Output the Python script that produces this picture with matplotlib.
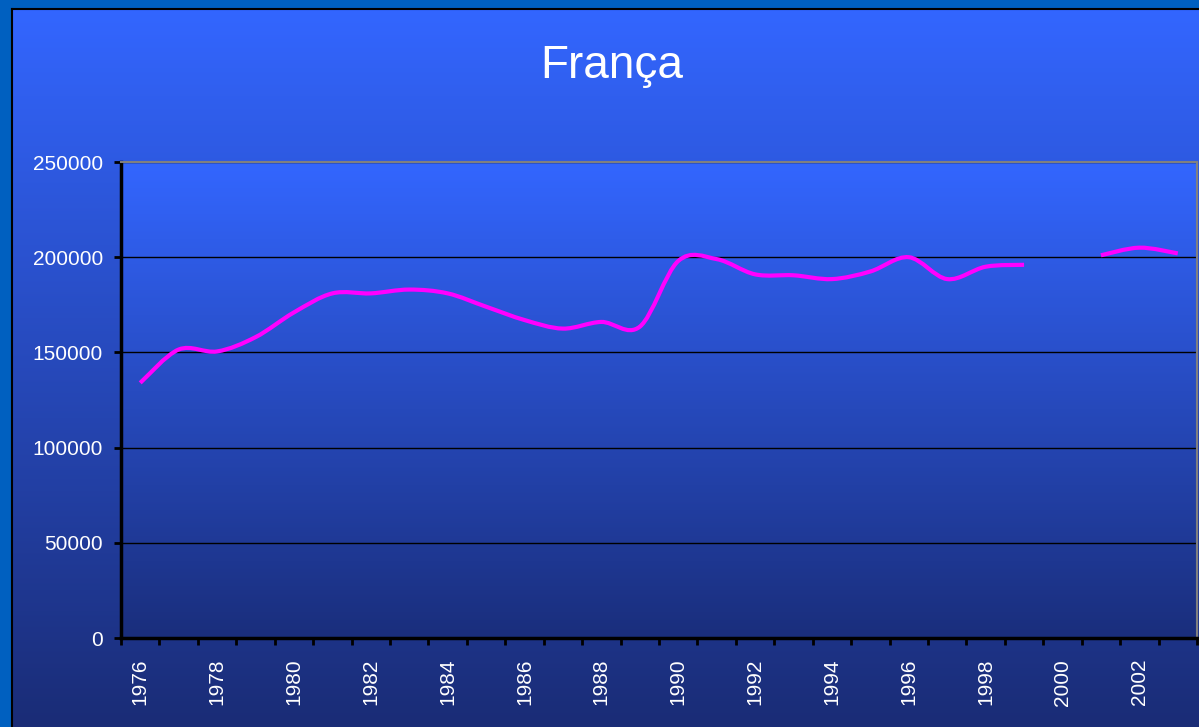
import numpy as np
import matplotlib
matplotlib.use("Agg")
import matplotlib.pyplot as plt
from matplotlib.path import Path
from matplotlib.patches import PathPatch
from matplotlib.colors import LinearSegmentedColormap

plt.rcParams['font.family'] = ['Liberation Sans', 'DejaVu Sans']

# ---- data ----
title = "França"
years = list(range(1976, 2004))
values = [134000, 151500, 150500, 158000, 171000, 181000, 181000, 183000,
          181000, 174000, 167000, 162500, 166000, 163500, 198000, 199000,
          191000, 190500, 188500, 192500, 200000, 188500, 195000, 196000,
          None, 201000, 205000, 202000]
yticks = [0, 50000, 100000, 150000, 200000, 250000]
label_years = list(range(1976, 2004, 2))

W, H = 1199, 727
fig = plt.figure(figsize=(W / 100, H / 100), dpi=100)
fig.patch.set_facecolor('#0060c0')

# chart area background with gradient
bg = fig.add_axes([12 / W, 0, 1 - 12 / W, (H - 9) / H], zorder=0)
cmap_bg = LinearSegmentedColormap.from_list('bg', ['#1a2c76', '#3366ff'])
grad = np.linspace(0, 1, 256).reshape(-1, 1)
bg.imshow(grad, aspect='auto', cmap=cmap_bg, origin='lower', extent=[0, 1, 0, 1])
bg.set_xticks([]); bg.set_yticks([])
for s in ['right', 'bottom']:
    bg.spines[s].set_visible(False)
for s in ['left', 'top']:
    bg.spines[s].set_color('black')
    bg.spines[s].set_linewidth(1.5)

# plot area gradient
rect = [121 / W, (H - 638) / H, (1197 - 121) / W, 476 / H]
pg = fig.add_axes(rect, zorder=1)
cmap_pa = LinearSegmentedColormap.from_list('pa', ['#1a2e7c', '#3366ff'])
pg.imshow(grad, aspect='auto', cmap=cmap_pa, origin='lower', extent=[0, 1, 0, 1])
pg.set_xticks([]); pg.set_yticks([])
for s in pg.spines.values():
    s.set_visible(False)

ax = fig.add_axes(rect, zorder=2)
ax.set_facecolor('none')

x = np.arange(len(years))


def smooth_path(xs, ys):
    n = len(xs)
    verts = [(xs[0], ys[0])]
    codes = [Path.MOVETO]
    for i in range(n - 1):
        p0 = (xs[i - 1], ys[i - 1]) if i > 0 else (xs[i], ys[i])
        p1 = (xs[i], ys[i])
        p2 = (xs[i + 1], ys[i + 1])
        p3 = (xs[i + 2], ys[i + 2]) if i + 2 < n else p2
        c1 = (p1[0] + (p2[0] - p0[0]) / 6, p1[1] + (p2[1] - p0[1]) / 6)
        c2 = (p2[0] - (p3[0] - p1[0]) / 6, p2[1] - (p3[1] - p1[1]) / 6)
        verts += [c1, c2, p2]
        codes += [Path.CURVE4] * 3
    return Path(verts, codes)


# split into segments at missing values
seg_x, seg_y = [], []
segments = []
for xi, v in zip(x, values):
    if v is None:
        if seg_x:
            segments.append((seg_x, seg_y))
        seg_x, seg_y = [], []
    else:
        seg_x.append(float(xi)); seg_y.append(float(v))
if seg_x:
    segments.append((seg_x, seg_y))

for sx, sy in segments:
    patch = PathPatch(smooth_path(sx, sy), facecolor='none', edgecolor='#ff00ff',
                      lw=3, capstyle='butt', joinstyle='round', zorder=3,
                      transform=ax.transData)
    ax.add_patch(patch)

ax.set_xlim(-0.5, len(years) - 0.5)
ax.set_ylim(0, 250000)

ax.set_yticks(yticks)
ax.set_yticklabels([str(v) for v in yticks])
ax.yaxis.grid(True, color='black', lw=1)
ax.set_axisbelow(True)

ax.set_xticks(np.arange(-0.5, len(years), 1.0))
ax.set_xticklabels([])
ax.set_xticks([years.index(y) for y in label_years], minor=True)
ax.set_xticklabels([str(y) for y in label_years], minor=True, rotation=90)

ax.tick_params(axis='x', which='major', direction='out', length=5, width=2, color='black')
ax.tick_params(axis='x', which='minor', length=0, pad=15, labelsize=15, labelcolor='white')
ax.tick_params(axis='y', direction='out', length=5, width=2, color='black',
               pad=8, labelsize=15, labelcolor='white')

for s in ['left', 'bottom']:
    ax.spines[s].set_color('black')
    ax.spines[s].set_linewidth(2.5)
for s in ['top', 'right']:
    ax.spines[s].set_color('#808080')
    ax.spines[s].set_linewidth(1.5)

fig.text(612 / W, 1 - 66 / H, title, ha='center', va='center', color='white', fontsize=33)

fig.savefig('out.png', dpi=100, facecolor=fig.get_facecolor())
